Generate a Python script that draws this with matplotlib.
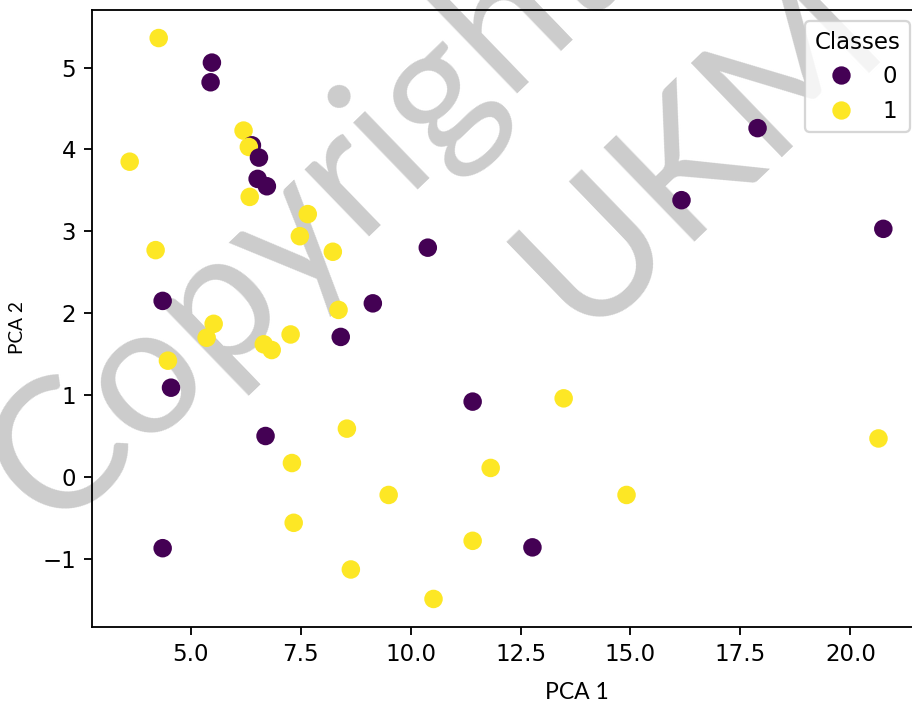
import matplotlib
matplotlib.use("Agg")
import matplotlib.pyplot as plt
import numpy as np
from matplotlib.lines import Line2D

# Data (PCA projection)
pca1 = [4.27, 3.61, 5.48, 5.45, 6.20, 6.39, 6.32, 6.55, 6.52, 6.73, 6.34,
        7.66, 7.48, 4.20, 8.23, 10.39, 4.36, 9.14, 8.36, 5.52, 5.36, 6.66,
        6.84, 7.27, 8.41, 4.48, 4.55, 6.70, 8.55, 11.41, 13.48, 7.30, 7.34,
        9.50, 11.82, 14.91, 11.41, 8.64, 10.52, 4.36, 12.77, 16.16, 17.89,
        20.75, 20.64]
pca2 = [5.36, 3.85, 5.06, 4.82, 4.23, 4.05, 4.03, 3.90, 3.64, 3.55, 3.42,
        3.21, 2.94, 2.77, 2.75, 2.80, 2.15, 2.12, 2.04, 1.87, 1.70, 1.62,
        1.55, 1.74, 1.71, 1.42, 1.09, 0.50, 0.59, 0.92, 0.96, 0.17, -0.56,
        -0.22, 0.11, -0.22, -0.78, -1.13, -1.49, -0.87, -0.86, 3.38, 4.26,
        3.03, 0.47]
classes = [1, 1, 0, 0, 1, 0, 1, 0, 0, 0, 1,
           1, 1, 1, 1, 0, 0, 0, 1, 1, 1, 1,
           1, 1, 0, 1, 0, 0, 1, 0, 1, 1, 1,
           1, 1, 1, 1, 1, 1, 0, 0, 0, 0,
           0, 1]
class_names = ["0", "1"]

DPI = 165
fig = plt.figure(figsize=(912 / DPI, 704 / DPI), dpi=DPI)
ax = fig.add_axes([92 / 912, (704 - 627) / 704, 829 / 912, 617 / 704])
ax.spines["right"].set_visible(False)

sc = ax.scatter(pca1, pca2, c=classes, cmap="viridis", s=50, zorder=2)

cmap = plt.get_cmap("viridis")
handles = [Line2D([], [], linestyle="none", marker="o", markersize=7,
                  markerfacecolor=cmap(i / (len(class_names) - 1)),
                  markeredgecolor=cmap(i / (len(class_names) - 1)))
           for i in range(len(class_names))]
ax.legend(handles, class_names, title="Classes", loc="upper right")

ax.set_xticks([5.0, 7.5, 10.0, 12.5, 15.0, 17.5, 20.0])
ax.set_xlabel("PCA 1", family="Lato", fontsize=10)
ax.set_ylabel("PCA 2", family="Lato", fontsize=8.3)
ax.xaxis.set_label_coords(0.585, -0.089)
ax.yaxis.set_label_coords(-0.0796, 0.485)

# watermark
ax.text(305 / 912, 1 - 220 / 704, "Copyright", transform=fig.transFigure,
        rotation=44, rotation_mode="anchor", ha="center", va="center",
        fontsize=80, family="Lato", color="#cccccc", zorder=1.5,
        clip_on=False)
ax.text(700 / 912, 1 - 150 / 704, "UKM", transform=fig.transFigure,
        rotation=44, rotation_mode="anchor", ha="center", va="center",
        fontsize=80, family="Lato", color="#cccccc", zorder=1.5,
        clip_on=False)

fig.savefig("out.png", dpi=DPI)
